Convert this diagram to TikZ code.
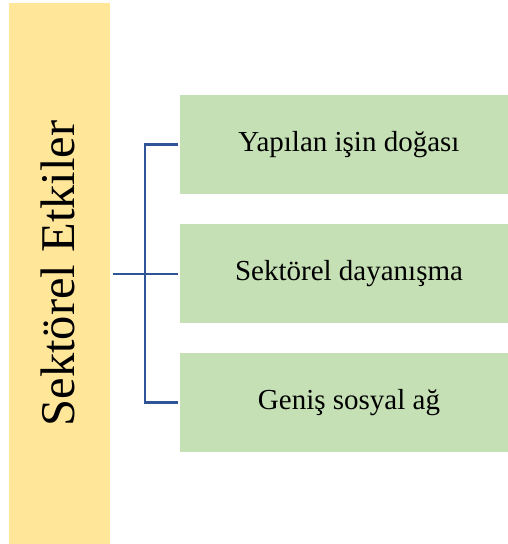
\documentclass[tikz,border=0pt]{standalone}
\usepackage{fontspec}
\setmainfont{Liberation Serif}
\usetikzlibrary{positioning}

\definecolor{barYellow}{HTML}{FFE699}
\definecolor{itemGreen}{HTML}{C5E0B4}
\definecolor{linkBlue}{HTML}{2F5597}

\begin{document}
\begin{tikzpicture}[
      x=1pt, y=1pt,
      node distance=30pt,
      bar/.style={fill=barYellow, minimum width=101pt, minimum height=541pt, inner sep=0pt},
      item/.style={fill=itemGreen, minimum width=338pt, minimum height=99pt, inner sep=0pt,
                   font=\fontsize{29}{34}\selectfont},
      link/.style={draw=linkBlue, line width=2.5pt},
    ]
    \useasboundingbox (0,0) rectangle (507,544);
    \node[bar] (side) at (59.5,270.5) {};
    \node[rotate=90, font=\fontsize{48.5}{58}\selectfont] (title) at ([xshift=-2pt]side.center) {Sektörel Etkiler};
    \node[item] (nature) at (349,399.5) {Yapılan işin doğası};
    \node[item, below=30pt of nature] (solid) {Sektörel dayanışma};
    \node[item, below=29pt of solid] (network) {Geniş sosyal ağ};
    \coordinate (fork) at (145,270);
    \draw[link, shorten <=3pt, shorten >=2pt] (side.east |- solid) -- (solid.west);
    \draw[link, shorten <=2pt, shorten >=2pt] (nature.west) -| (fork) |- (network.west);
  \end{tikzpicture}
\end{document}
